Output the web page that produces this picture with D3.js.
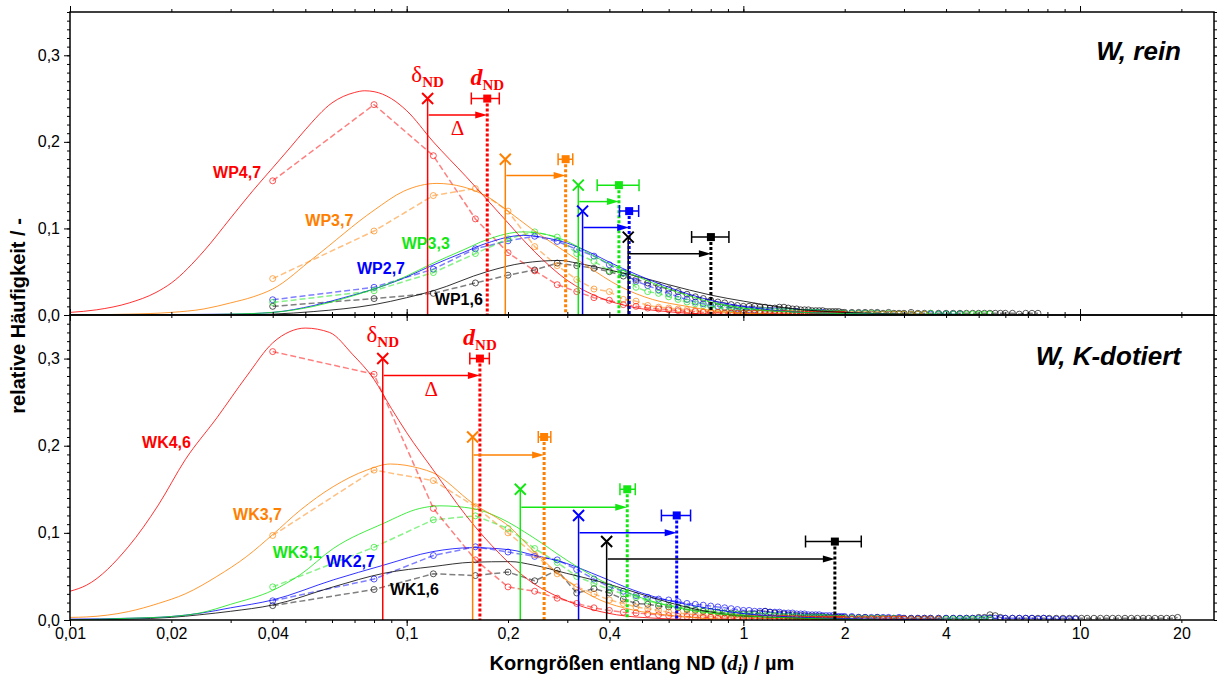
<!DOCTYPE html>
<html>
<head>
<meta charset="utf-8">
<script src="https://cdn.jsdelivr.net/npm/d3@7"></script>
<style>
  body { margin: 0; background: #fff; }
  svg { display: block; }
</style>
</head>
<body>
<svg id="chart" width="1217" height="676"></svg>
<script>
// ---- data -----------------------------------------------------------------
const colors = ['#ff0000', '#ff8000', '#14e614', '#0000ff', '#000000'];

const namesTop = ['WP4,7', 'WP3,7', 'WP3,3', 'WP2,7', 'WP1,6'];
const namesBot = ['WK4,6', 'WK3,7', 'WK3,1', 'WK2,7', 'WK1,6'];

const xLabelTicks = [0.01, 0.02, 0.04, 0.1, 0.2, 0.4, 1, 2, 4, 10, 20];
const xLabels = ['0,01', '0,02', '0,04', '0,1', '0,2', '0,4', '1', '2', '4', '10', '20'];
const xDecades = [0.01, 0.1, 1, 10];
const yTicks = [0, 0.1, 0.2, 0.3];
const yLabels = ['0,0', '0,1', '0,2', '0,3'];

// bin centres of the measured distributions (µm)
const bins = [0.04, 0.08, 0.12, 0.16, 0.20, 0.24, 0.28, 0.32, 0.36, 0.40, 0.44, 0.48, 0.52,
  0.56, 0.60, 0.64, 0.68, 0.72, 0.76, 0.80, 0.84, 0.88, 0.92, 0.96, 1.00];
// bins of the long, almost empty tails
const tailBins = [1.04, 1.08, 1.12, 1.16, 1.20, 1.24, 1.28, 1.32, 1.36, 1.40, 1.44, 1.48, 1.52,
  1.56, 1.60, 1.64, 1.68, 1.72, 1.76, 1.80, 1.84, 1.88, 1.92, 1.96, 2.00,
  2.1, 2.2, 2.3, 2.4, 2.5, 2.6, 2.7, 2.8, 2.9, 3.0, 3.15, 3.3, 3.45, 3.6, 3.8,
  4.0, 4.2, 4.4, 4.6, 4.8, 5.0, 5.2, 5.4, 5.6, 5.8, 6.0, 6.3, 6.6, 6.9, 7.2, 7.5, 7.8, 8.1,
  8.5, 8.9, 9.3, 9.7, 10.1, 10.5, 11, 11.5, 12, 12.5, 13, 13.6, 14.2, 14.8, 15.4, 16,
  16.7, 17.4, 18.1, 18.8, 19.5];

// W, rein - measured
const measWP47 = [0.155,0.243,0.184,0.111,0.072,0.051,0.035,0.027,0.020,0.017,0.012,0.010,0.008,0.007,0.006,0.005,0.004,0.004,0.003,0.003,0.003,0.002,0.002,0.002,0.002];
const measWP37 = [0.042,0.097,0.138,0.146,0.120,0.079,0.057,0.041,0.030,0.027,0.018,0.016,0.011,0.009,0.008,0.007,0.006,0.005,0.004,0.004,0.003,0.003,0.003,0.002,0.002];
const measWP33 = [0.0145,0.028,0.049,0.071,0.088,0.096,0.090,0.071,0.062,0.051,0.048,0.032,0.027,0.025,0.021,0.018,0.015,0.013,0.011,0.010,0.009,0.008,0.007,0.006,0.005];
const measWP27 = [0.0176,0.032,0.053,0.0765,0.0857,0.091,0.085,0.076,0.068,0.058,0.049,0.039,0.034,0.029,0.025,0.021,0.018,0.015,0.013,0.011,0.010,0.009,0.008,0.007,0.006];
const measWP16 = [0.010,0.019,0.025,0.037,0.046,0.052,0.060,0.057,0.054,0.050,0.045,0.041,0.037,0.033,0.030,0.027,0.024,0.021,0.019,0.017,0.015,0.014,0.012,0.011,0.010];

const tailWP47 = [0.002,0.002,0.002,0.002,0.002,0.002,0.001,0.002,0.001,0.001,0.001,0.001,0.001,0.001,0.001,0.001,0.001,0.001,0.001,0.001,0.001,0.001,0.001,0.001,0.001];
const tailWP37 = [0.002,0.002,0.002,0.002,0.002,0.002,0.002,0.002,0.002,0.002,0.001,0.002,0.001,0.001,0.001,0.001,0.001,0.001,0.001,0.001,0.001,0.001,0.001,0.001,0.001,
  0.001,0.001,0.001,0.001,0.001,0.001,0.001,0.001,0.001,0.001,0.001,0.001,0.001];
const tailWP33 = [0.005,0.005,0.005,0.005,0.004,0.004,0.004,0.004,0.004,0.003,0.003,0.003,0.003,0.003,0.003,0.003,0.003,0.002,0.002,0.002,0.002,0.002,0.002,0.002,0.002,
  0.002,0.002,0.002,0.002,0.002,0.001,0.002,0.001,0.001,0.001,0.001,0.001,0.001,0.002,0.001,0.001,0.001,0.001,0.001,0.001,0.001,0.001,0.001];
const tailWP27 = [0.006,0.006,0.005,0.005,0.005,0.005,0.004,0.004,0.004,0.004,0.004,0.003,0.003,0.003,0.003,0.003,0.003,0.003,0.002,0.002,0.002,0.002,0.002,0.002,0.002,
  0.002,0.002,0.002,0.001,0.002,0.001,0.001,0.001,0.001,0.001,0.001,0.001,0.001,0.001,0.001,0.001,0.001,0.001];
const tailWP16 = [0.010,0.010,0.009,0.009,0.008,0.008,0.009,0.009,0.008,0.007,0.007,0.006,0.006,0.006,0.005,0.005,0.005,0.005,0.004,0.004,0.004,0.004,0.004,0.003,0.003,
  0.003,0.003,0.003,0.003,0.003,0.002,0.003,0.002,0.002,0.002,0.003,0.002,0.002,0.002,0.002,0.002,0.002,0.002,0.002,0.002,0.002,0.002,0.002,0.002,0.002,0.002,0.002,0.001,0.002,0.002,0.002];

// W, rein - fitted distributions [d, h]
const fitWP47 = [[0.010,0.003],[0.012,0.006],[0.015,0.014],[0.018,0.026],[0.020,0.037],[0.025,0.074],[0.030,0.112],[0.035,0.144],[0.040,0.170],[0.045,0.193],[0.050,0.214],[0.060,0.245],[0.070,0.257],[0.075,0.259],[0.080,0.258],[0.090,0.250],[0.100,0.236],[0.120,0.200],[0.150,0.160],[0.190,0.116],[0.240,0.073],[0.300,0.040],[0.375,0.020],[0.470,0.009],[0.590,0.004],[0.800,0.001],[1.200,0.000],[2.000,0.000]];
const fitWP37 = [[0.010,0.000],[0.015,0.001],[0.020,0.003],[0.025,0.007],[0.030,0.014],[0.035,0.021],[0.040,0.030],[0.053,0.066],[0.080,0.121],[0.098,0.143],[0.123,0.152],[0.147,0.148],[0.173,0.137],[0.200,0.120],[0.234,0.100],[0.271,0.083],[0.345,0.056],[0.430,0.033],[0.537,0.018],[0.680,0.010],[0.850,0.004],[1.200,0.001],[2.000,0.000]];
const fitWP33 = [[0.010,0.000],[0.020,0.000],[0.030,0.001],[0.040,0.003],[0.053,0.010],[0.065,0.019],[0.080,0.030],[0.100,0.045],[0.117,0.058],[0.147,0.075],[0.173,0.087],[0.222,0.096],[0.260,0.093],[0.300,0.085],[0.360,0.068],[0.400,0.059],[0.480,0.045],[0.600,0.030],[0.800,0.015],[1.000,0.008],[1.500,0.003],[2.500,0.001],[4.000,0.000]];
const fitWP27 = [[0.010,0.000],[0.030,0.001],[0.040,0.003],[0.053,0.011],[0.065,0.020],[0.080,0.030],[0.100,0.044],[0.117,0.056],[0.147,0.072],[0.173,0.083],[0.222,0.092],[0.260,0.089],[0.300,0.083],[0.360,0.070],[0.400,0.061],[0.480,0.047],[0.600,0.032],[0.800,0.017],[1.000,0.010],[1.500,0.003],[2.500,0.001],[4.000,0.000]];
const fitWP16 = [[0.010,0.000],[0.030,0.000],[0.040,0.001],[0.053,0.004],[0.080,0.012],[0.100,0.020],[0.120,0.028],[0.173,0.050],[0.222,0.060],[0.285,0.063],[0.320,0.060],[0.400,0.052],[0.480,0.045],[0.600,0.035],[0.800,0.023],[1.000,0.016],[1.500,0.006],[2.000,0.003],[3.000,0.001],[5.000,0.000]];

// W, rein - delta_ND (x marks), d_ND (squares with error), arrow heights
const deltaTop = [0.1154, 0.1963, 0.3234, 0.333, 0.455];
const deltaTopH = [0.25, 0.18, 0.15, 0.12, 0.09];
const dTop = [0.1735, 0.2966, 0.427, 0.458, 0.801];
const dTopLo = [0.1556, 0.2817, 0.368, 0.4285, 0.702];
const dTopHi = [0.1884, 0.3114, 0.490, 0.4887, 0.906];
const arrowTopH = [0.231, 0.161, 0.131, 0.101, 0.0707];

// W, K-dotiert - measured
const measWK46 = [0.308,0.282,0.128,0.069,0.038,0.033,0.025,0.019,0.014,0.011,0.009,0.008,0.007,0.006,0.005,0.004,0.004,0.003,0.003,0.003,0.002,0.002,0.002,0.002,0.002];
const measWK37 = [0.097,0.172,0.160,0.130,0.100,0.075,0.053,0.038,0.030,0.023,0.019,0.015,0.013,0.011,0.009,0.008,0.007,0.006,0.005,0.004,0.004,0.003,0.003,0.003,0.002];
const measWK31 = [0.038,0.0835,0.115,0.1195,0.105,0.082,0.066,0.050,0.042,0.035,0.030,0.026,0.022,0.019,0.017,0.015,0.013,0.012,0.011,0.010,0.009,0.008,0.007,0.007,0.006];
const measWK27 = [0.022,0.047,0.074,0.084,0.078,0.073,0.069,0.058,0.047,0.038,0.033,0.028,0.026,0.024,0.023,0.021,0.019,0.018,0.017,0.016,0.015,0.014,0.013,0.012,0.011];
const measWK16 = [0.0165,0.035,0.053,0.051,0.055,0.045,0.057,0.031,0.036,0.031,0.024,0.019,0.018,0.016,0.015,0.014,0.012,0.011,0.010,0.010,0.009,0.008,0.008,0.007,0.007];

const tailWK46 = [0.002,0.002,0.002,0.002,0.002,0.002,0.002,0.002,0.002,0.001,0.002,0.001,0.001,0.001,0.001,0.001,0.001,0.001,0.001,0.001,0.001,0.001,0.001,0.001,0.001,
  0.001,0.001,0.001,0.001,0.001,0.001,0.001,0.001,0.001,0.001,0.001,0.001,0.001,0.001,0.001];
const tailWK37 = [0.002,0.002,0.002,0.002,0.002,0.002,0.002,0.002,0.001,0.002,0.001,0.001,0.001,0.001,0.001,0.001,0.001,0.001,0.001,0.001,0.001,0.001,0.001,0.001,0.001,
  0.001,0.001,0.001,0.001,0.001,0.001,0.001,0.001,0.001,0.001];
const tailWK31 = [0.006,0.006,0.005,0.005,0.005,0.005,0.004,0.004,0.004,0.004,0.004,0.003,0.003,0.003,0.003,0.003,0.003,0.003,0.003,0.002,0.002,0.002,0.002,0.002,0.002,
  0.002,0.002,0.002,0.002,0.002,0.002,0.001,0.002,0.001,0.001,0.001,0.001,0.001,0.001,0.001,0.001,0.001,0.001,0.001,0.001,0.001,0.001,0.001];
const tailWK27 = [0.011,0.010,0.010,0.010,0.009,0.009,0.009,0.008,0.008,0.008,0.007,0.007,0.007,0.006,0.006,0.006,0.006,0.005,0.005,0.005,0.005,0.004,0.004,0.004,0.004,
  0.004,0.003,0.003,0.003,0.003,0.003,0.003,0.002,0.003,0.002,0.002,0.002,0.002,0.002,0.002,0.002,0.002,0.002,0.002,0.002,0.002,0.002,0.002,0.002,0.002,0.002,0.002,0.002,0.002,0.002,0.001,0.002,0.001,0.001,0.001,0.001,0.001];
const tailWK16 = [0.007,0.007,0.008,0.010,0.009,0.008,0.007,0.007,0.006,0.006,0.005,0.005,0.005,0.004,0.004,0.004,0.004,0.004,0.003,0.003,0.003,0.003,0.003,0.003,0.003,
  0.003,0.003,0.003,0.002,0.003,0.002,0.002,0.002,0.002,0.002,0.002,0.002,0.002,0.002,0.002,0.002,0.002,0.002,0.002,0.002,0.003,0.003,0.006,0.005,0.003,0.002,0.002,0.002,
  0.002,0.002,0.002,0.002,0.002,0.002,0.002,0.002,0.002,0.002,0.002,0.002,0.002,0.002,0.002,0.002,0.002,0.002,0.002,0.002,0.002,0.002,0.002,0.002,0.002,0.003];

// W, K-dotiert - fitted distributions
const fitWK46 = [[0.0100,0.033],[0.0112,0.040],[0.0149,0.084],[0.0183,0.132],[0.0220,0.184],[0.0273,0.232],[0.0335,0.280],[0.0400,0.318],[0.0450,0.331],[0.0500,0.335],[0.0590,0.330],[0.0690,0.305],[0.0800,0.276],[0.0900,0.243],[0.1000,0.215],[0.1200,0.172],[0.1500,0.120],[0.1900,0.075],[0.2300,0.046],[0.2700,0.030],[0.3350,0.015],[0.4200,0.006],[0.5500,0.002],[0.8000,0.000]];
const fitWK37 = [[0.0100,0.003],[0.0112,0.0035],[0.0149,0.0096],[0.0183,0.019],[0.0220,0.030],[0.0273,0.050],[0.0335,0.073],[0.0400,0.098],[0.0483,0.126],[0.0605,0.153],[0.0761,0.172],[0.0894,0.179],[0.1094,0.174],[0.1197,0.169],[0.1570,0.134],[0.2034,0.106],[0.2370,0.080],[0.2980,0.046],[0.3750,0.023],[0.4700,0.0115],[0.5900,0.0057],[0.7500,0.002],[1.0000,0.000]];
const fitWK31 = [[0.010,0.000],[0.015,0.002],[0.020,0.004],[0.0243,0.008],[0.030,0.018],[0.040,0.034],[0.0483,0.052],[0.0605,0.082],[0.0855,0.111],[0.1094,0.128],[0.1255,0.131],[0.157,0.128],[0.1894,0.117],[0.237,0.095],[0.298,0.069],[0.375,0.046],[0.47,0.029],[0.59,0.017],[0.74,0.0096],[0.93,0.0057],[1.5,0.002],[2.5,0.000]];
const fitWK27 = [[0.010,0.001],[0.015,0.002],[0.020,0.004],[0.0243,0.0077],[0.030,0.014],[0.040,0.023],[0.0605,0.046],[0.0855,0.063],[0.1197,0.0785],[0.157,0.083],[0.2034,0.0805],[0.237,0.0747],[0.298,0.065],[0.375,0.050],[0.47,0.0345],[0.59,0.023],[0.74,0.0153],[0.93,0.0088],[1.5,0.003],[2.5,0.001],[4,0.000]];
const fitWK16 = [[0.010,0.000],[0.015,0.001],[0.020,0.003],[0.0243,0.006],[0.030,0.010],[0.040,0.0172],[0.0605,0.038],[0.0855,0.0536],[0.1197,0.0613],[0.157,0.0663],[0.2034,0.067],[0.237,0.0632],[0.298,0.0536],[0.375,0.044],[0.47,0.0326],[0.59,0.021],[0.74,0.0115],[0.93,0.0057],[1.5,0.002],[2.5,0.000]];

const deltaBot = [0.0849, 0.157, 0.2175, 0.324, 0.3926];
const deltaBotH = [0.30, 0.21, 0.15, 0.12, 0.09];
const dBot = [0.165, 0.256, 0.452, 0.634, 1.87];
const dBotLo = [0.154, 0.246, 0.430, 0.571, 1.53];
const dBotHi = [0.176, 0.268, 0.4775, 0.697, 2.24];
const arrowBotH = [0.2805, 0.1893, 0.1295, 0.100, 0.070];

// ---- layout ---------------------------------------------------------------
const LEFT = 70, RIGHT = 1214;
const SANS = '"Liberation Sans", Arial, sans-serif';
const SERIF = '"Liberation Serif", "Times New Roman", serif';

const panels = [
  { key: 'top', top: 12, bottom: 315, title: 'W, rein', titleY: 60,
    names: namesTop, meas: [measWP47, measWP37, measWP33, measWP27, measWP16],
    tails: [tailWP47, tailWP37, tailWP33, tailWP27, tailWP16],
    fits: [fitWP47, fitWP37, fitWP33, fitWP27, fitWP16],
    delta: deltaTop, deltaH: deltaTopH, d: dTop, dLo: dTopLo, dHi: dTopHi, arrowH: arrowTopH,
    labelAt: [[0.0266, 0.158], [0.050, 0.103], [0.0967, 0.0768], [0.0712, 0.0476], [0.1212, 0.0119]] },
  { key: 'bot', top: 315, bottom: 620, title: 'W, K-dotiert', titleY: 365,
    names: namesBot, meas: [measWK46, measWK37, measWK31, measWK27, measWK16],
    tails: [tailWK46, tailWK37, tailWK31, tailWK27, tailWK16],
    fits: [fitWK46, fitWK37, fitWK31, fitWK27, fitWK16],
    delta: deltaBot, deltaH: deltaBotH, d: dBot, dLo: dBotLo, dHi: dBotHi, arrowH: arrowBotH,
    labelAt: [[0.01637, 0.197], [0.0305, 0.115], [0.040, 0.0716], [0.0576, 0.061], [0.0892, 0.0287]] }
];

const svg = d3.select('#chart');
const x = d3.scaleLog().domain([0.01, 25]).range([LEFT, RIGHT]);
const xMinor = x.ticks();

function styleAxis(g) {
  g.select('.domain').remove();
  g.selectAll('line').attr('stroke', '#000').attr('stroke-width', 1);
  g.selectAll('text').attr('font-family', SANS).attr('font-size', 16).attr('fill', '#000');
}

function drawPanel(p) {
  const y = d3.scaleLinear().domain([0, 0.35]).range([p.bottom, p.top]);
  const yMinor = y.ticks(35);
  const g = svg.append('g').attr('class', 'panel-' + p.key);

  svg.append('clipPath').attr('id', 'clip-' + p.key)
    .append('rect').attr('x', LEFT).attr('y', p.top)
    .attr('width', RIGHT - LEFT).attr('height', p.bottom - p.top);

  const plot = g.append('g').attr('clip-path', `url(#clip-${p.key})`);

  const fitLine = d3.line().x(d => x(d[0])).y(d => y(d[1])).curve(d3.curveMonotoneX);
  const measLine = d3.line().x(d => x(d[0])).y(d => y(d[1]));

  // measured distributions, black first so red ends up on top
  for (let i = 4; i >= 0; i--) {
    const pts = p.meas[i].map((v, j) => [bins[j], v])
      .concat(p.tails[i].slice(0, tailBins.length).map((v, j) => [tailBins[j], v]));
    plot.append('path').datum(pts)
      .attr('d', measLine)
      .attr('fill', 'none')
      .attr('stroke', colors[i])
      .attr('stroke-opacity', 0.5)
      .attr('stroke-width', 1.5)
      .attr('stroke-dasharray', '6,3');
    plot.append('g').selectAll('circle').data(pts).join('circle')
      .attr('cx', d => x(d[0]))
      .attr('cy', d => y(d[1]))
      .attr('r', 3)
      .attr('fill', 'none')
      .attr('stroke', colors[i])
      .attr('stroke-opacity', 0.65)
      .attr('stroke-width', 1);
  }

  // fitted curves
  for (let i = 4; i >= 0; i--) {
    plot.append('path').datum(p.fits[i])
      .attr('d', fitLine)
      .attr('fill', 'none')
      .attr('stroke', colors[i])
      .attr('stroke-opacity', 0.8)
      .attr('stroke-width', 1);
  }

  // delta_ND / d_ND markers
  const mk = g.append('g');
  for (let i = 0; i < 5; i++) {
    const c = colors[i];
    const xd = x(p.delta[i]), yd = y(p.deltaH[i]);
    const xs = x(p.d[i]), ys = y(p.deltaH[i]);
    const ya = y(p.arrowH[i]);

    mk.append('line').attr('x1', xd).attr('x2', xd).attr('y1', yd).attr('y2', y(0))
      .attr('stroke', c).attr('stroke-width', 1.5);
    mk.append('path').attr('d', 'M-5.5,-5.5L5.5,5.5M-5.5,5.5L5.5,-5.5')
      .attr('transform', `translate(${xd},${yd})`)
      .attr('stroke', c).attr('stroke-width', 2).attr('fill', 'none');

    mk.append('line').attr('x1', xs).attr('x2', xs).attr('y1', ys).attr('y2', y(0))
      .attr('stroke', c).attr('stroke-width', 3).attr('stroke-dasharray', '3,2');

    // error bar
    const xl = x(p.dLo[i]), xh = x(p.dHi[i]);
    mk.append('path')
      .attr('d', `M${xl},${ys}H${xh}M${xl},${ys - 6}V${ys + 6}M${xh},${ys - 6}V${ys + 6}`)
      .attr('stroke', c).attr('stroke-width', 1.5).attr('fill', 'none');
    mk.append('rect').attr('x', xs - 4).attr('y', ys - 4).attr('width', 8).attr('height', 8)
      .attr('fill', c);

    // arrow delta -> d
    mk.append('line').attr('x1', xd + 1).attr('x2', xs - 10).attr('y1', ya).attr('y2', ya)
      .attr('stroke', c).attr('stroke-width', 1.5);
    mk.append('path').attr('d', `M${xs},${ya}L${xs - 12},${ya - 3.5}L${xs - 12},${ya + 3.5}Z`)
      .attr('fill', c);
  }

  // delta_ND, d_ND and Delta annotation on the red series
  const xd0 = x(p.delta[0]), yd0 = y(p.deltaH[0]), xs0 = x(p.d[0]);
  const tD = g.append('text').attr('x', xd0).attr('y', yd0 - 17)
    .attr('text-anchor', 'middle').attr('fill', colors[0]).attr('font-family', SERIF);
  tD.append('tspan').attr('font-size', 23).text('δ');
  tD.append('tspan').attr('font-size', 15).attr('font-weight', 'bold').attr('dy', 5).text('ND');
  const tN = g.append('text').attr('x', xs0).attr('y', yd0 - 14)
    .attr('text-anchor', 'middle').attr('fill', colors[0]).attr('font-family', SERIF);
  tN.append('tspan').attr('font-size', 24).attr('font-weight', 'bold').attr('font-style', 'italic').text('d');
  tN.append('tspan').attr('font-size', 15).attr('font-weight', 'bold').attr('dy', 5).text('ND');
  g.append('text').attr('x', (xd0 + xs0) / 2).attr('y', y(p.arrowH[0]) + 20)
    .attr('text-anchor', 'middle').attr('fill', colors[0])
    .attr('font-family', SERIF).attr('font-size', 21).text('Δ');

  // series labels
  p.names.forEach((n, i) => {
    g.append('text').attr('x', x(p.labelAt[i][0])).attr('y', y(p.labelAt[i][1]))
      .attr('fill', colors[i]).attr('font-family', SANS).attr('font-size', 16)
      .attr('font-weight', 'bold').text(n);
  });

  // panel title
  g.append('text').attr('x', 1181).attr('y', p.titleY).attr('text-anchor', 'end')
    .attr('font-family', SANS).attr('font-size', 26).attr('font-weight', 'bold')
    .attr('font-style', 'italic').attr('fill', '#000').text(p.title);

  // axes
  g.append('g').attr('transform', `translate(${LEFT},0)`)
    .call(d3.axisLeft(y).tickValues(yMinor).tickSize(3).tickFormat('')).call(styleAxis);
  g.append('g').attr('transform', `translate(${LEFT},0)`)
    .call(d3.axisLeft(y).tickValues(yTicks).tickSize(6).tickPadding(4)
      .tickFormat((d, i) => yLabels[i])).call(styleAxis);
  g.append('g').attr('transform', `translate(${RIGHT},0)`)
    .call(d3.axisRight(y).tickValues(yMinor).tickSize(3).tickFormat('')).call(styleAxis);
  g.append('g').attr('transform', `translate(${RIGHT},0)`)
    .call(d3.axisRight(y).tickValues(yTicks).tickSize(6).tickFormat('')).call(styleAxis);

  g.append('g').attr('transform', `translate(0,${p.top})`)
    .call(d3.axisTop(x).tickValues(xMinor).tickSize(3).tickFormat('')).call(styleAxis);
  g.append('g').attr('transform', `translate(0,${p.top})`)
    .call(d3.axisTop(x).tickValues(xDecades).tickSize(6).tickFormat('')).call(styleAxis);
  g.append('g').attr('transform', `translate(0,${p.bottom})`)
    .call(d3.axisBottom(x).tickValues(xMinor).tickSize(3).tickFormat('')).call(styleAxis);
  g.append('g').attr('transform', `translate(0,${p.bottom})`)
    .call(d3.axisBottom(x).tickValues(xDecades).tickSize(6).tickFormat('')).call(styleAxis);

  // frame
  g.append('rect').attr('x', LEFT).attr('y', p.top)
    .attr('width', RIGHT - LEFT).attr('height', p.bottom - p.top)
    .attr('fill', 'none').attr('stroke', '#000').attr('stroke-width', 1.5);
}

panels.forEach(drawPanel);

// x tick labels under the lower panel
svg.append('g').attr('transform', `translate(0,${panels[1].bottom})`)
  .call(d3.axisBottom(x).tickValues(xLabelTicks).tickSize(0).tickPadding(8)
    .tickFormat((d, i) => xLabels[i])).call(styleAxis);

// axis titles
const xt = svg.append('text').attr('x', (LEFT + RIGHT) / 2).attr('y', 670)
  .attr('text-anchor', 'middle').attr('font-family', SANS).attr('font-size', 20)
  .attr('font-weight', 'bold').attr('fill', '#000');
xt.append('tspan').text('Korngrößen entlang ND (');
xt.append('tspan').attr('font-family', SERIF).attr('font-style', 'italic').attr('font-size', 21).text('d');
xt.append('tspan').attr('font-family', SERIF).attr('font-style', 'italic').attr('font-size', 14).attr('dy', 4).text('i');
xt.append('tspan').attr('dy', -4).text(') / µm');

svg.append('text')
  .attr('transform', `translate(25,${(panels[0].top + panels[1].bottom) / 2}) rotate(-90)`)
  .attr('text-anchor', 'middle').attr('font-family', SANS).attr('font-size', 20)
  .attr('font-weight', 'bold').attr('fill', '#000').text('relative Häufigkeit / -');
</script>
</body>
</html>
